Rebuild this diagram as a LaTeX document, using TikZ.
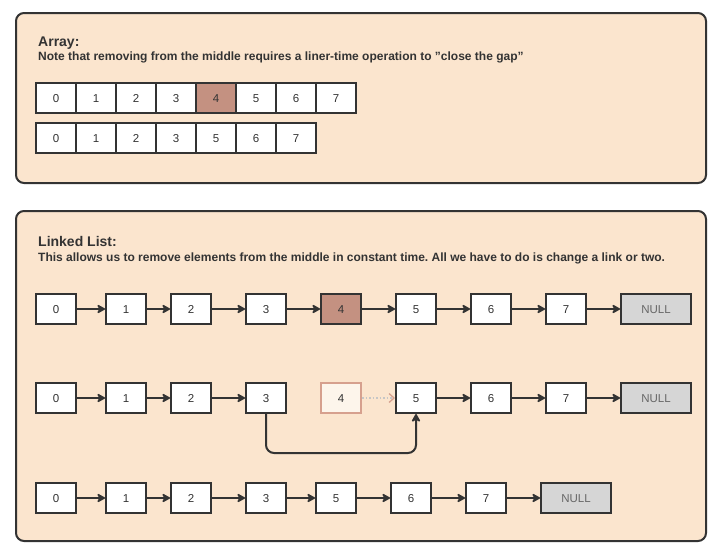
\documentclass[tikz,border=0pt]{standalone}
\usepackage{fontspec}
\setmainfont{Liberation Sans}
\usetikzlibrary{arrows.meta}
\definecolor{panel}{HTML}{FBE5CE}
\definecolor{ink}{HTML}{333333}
\definecolor{hot}{HTML}{C49181}
\definecolor{ghost}{HTML}{D6A08E}
\definecolor{nullfill}{HTML}{D6D6D6}
\frenchspacing
\begin{document}
\begin{tikzpicture}[x=1pt,y=-1pt,
  panelbox/.style={draw=ink, line width=2pt, fill=panel, rounded corners=8pt},
  cell/.style={draw=ink, line width=2pt, fill=white, minimum width=40pt, minimum height=30pt,
    inner sep=0pt, text height=8.3pt, text depth=0pt, font=\fontsize{11.5}{12}\selectfont, text=ink},
  hotcell/.style={cell, fill=hot},
  nullcell/.style={cell, fill=nullfill, minimum width=70pt, text=ink!75},
  ghostcell/.style={cell, draw=ghost, fill=panel!40!white},
  link/.style={draw=ink, line width=2pt, -{Stealth[length=10pt,width=11pt,inset=3.5pt,round]}},
  ghostlink/.style={draw=gray!45, dotted, line width=1.5pt, -{Straight Barb[length=5pt,width=9pt,line width=1.3pt,color=ghost]}},
  title/.style={anchor=base west, inner sep=0pt, text=ink, font=\bfseries\fontsize{14}{16}\selectfont},
  subtitle/.style={anchor=base west, inner sep=0pt, text=ink, font=\bfseries\fontsize{12}{14}\selectfont}
]
\useasboundingbox (0,0) rectangle (720,554);
\fill[white] (0,0) rectangle (720,554);

% panels
\draw[panelbox] (16,13) rectangle (706,183);
\draw[panelbox] (16,211) rectangle (706,541);

% titles
\node[title] (t1) at (38,46) {Array:};
\node[subtitle] (s1) at (38,60) {Note that removing from the middle requires a liner-time operation to \symbol{34}close the gap\symbol{34}};
\node[title] (t2) at (38,246) {Linked List:};
\node[subtitle] (s2) at (38,261) {This allows us to remove elements from the middle in constant time. All we have to do is change a link or two.};

% array row 1
\foreach \i in {0,1,2,3,5,6,7} {
  \node[cell] (a\i) at ({56+40*\i},98) {\i};
}
\node[hotcell] (a4) at (216,98) {4};
% array row 2
\foreach \v [count=\k from 0] in {0,1,2,3,5,6,7} {
  \node[cell] (c\k) at ({56+40*\k},138) {\v};
}

% linked list row 1
\node[cell] (l0) at (56,309) {0};
\node[cell] (l1) at (126,309) {1};
\node[cell] (l2) at (191,309) {2};
\node[cell] (l3) at (266,309) {3};
\node[hotcell] (l4) at (341,309) {4};
\node[cell] (l5) at (416,309) {5};
\node[cell] (l6) at (491,309) {6};
\node[cell] (l7) at (566,309) {7};
\node[nullcell] (ln) at (656,309) {NULL};
\draw[link] (l0) -- (l1);
\draw[link] (l1) -- (l2);
\draw[link] (l2) -- (l3);
\draw[link] (l3) -- (l4);
\draw[link] (l4) -- (l5);
\draw[link] (l5) -- (l6);
\draw[link] (l6) -- (l7);
\draw[link] (l7) -- (ln);

% linked list row 2
\node[cell] (m0) at (56,398) {0};
\node[cell] (m1) at (126,398) {1};
\node[cell] (m2) at (191,398) {2};
\node[cell] (m3) at (266,398) {3};
\node[ghostcell] (m4) at (341,398) {4};
\node[cell] (m5) at (416,398) {5};
\node[cell] (m6) at (491,398) {6};
\node[cell] (m7) at (566,398) {7};
\node[nullcell] (mn) at (656,398) {NULL};
\draw[link] (m0) -- (m1);
\draw[link] (m1) -- (m2);
\draw[link] (m2) -- (m3);
\draw[ghostlink] (m4) -- (m5);
\draw[link] (m5) -- (m6);
\draw[link] (m6) -- (m7);
\draw[link] (m7) -- (mn);
\draw[link, rounded corners=8pt] (m3.south) -- (m3.south |- 0,453) -- (m5.south |- 0,453) -- (m5.south);

% linked list row 3
\node[cell] (n0) at (56,498) {0};
\node[cell] (n1) at (126,498) {1};
\node[cell] (n2) at (191,498) {2};
\node[cell] (n3) at (266,498) {3};
\node[cell] (n5) at (336,498) {5};
\node[cell] (n6) at (411,498) {6};
\node[cell] (n7) at (486,498) {7};
\node[nullcell] (nn) at (576,498) {NULL};
\draw[link] (n0) -- (n1);
\draw[link] (n1) -- (n2);
\draw[link] (n2) -- (n3);
\draw[link] (n3) -- (n5);
\draw[link] (n5) -- (n6);
\draw[link] (n6) -- (n7);
\draw[link] (n7) -- (nn);
\end{tikzpicture}
\end{document}
